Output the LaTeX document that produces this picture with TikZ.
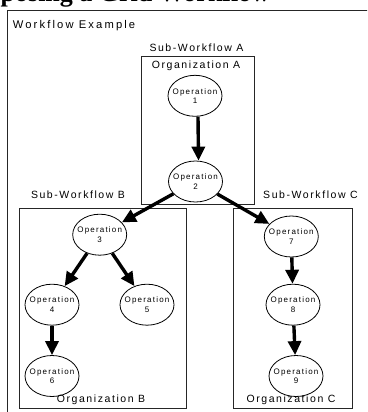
\documentclass[tikz,border=0pt]{standalone}
\usepackage{fontspec}
\setmainfont{Liberation Sans}
\newfontfamily\lblfont[LetterSpace=15]{Liberation Sans}
\newfontfamily\wffont[LetterSpace=19]{Liberation Sans}
\newfontfamily\opfont[LetterSpace=15]{Liberation Sans}
\newfontfamily\titlefont{Liberation Serif}
\usetikzlibrary{shapes.geometric,arrows.meta}
\begin{document}
\begin{tikzpicture}[x=1pt,y=-1pt,
  op/.style={draw=black, line width=0.8pt, ellipse, minimum width=54pt, minimum height=41pt, inner sep=0pt},
  optext/.style={font=\opfont\fontsize{8}{9.3}\selectfont, align=center, inner sep=0pt},
  lbl/.style={font=\lblfont\fontsize{10.5}{12}\selectfont, inner sep=0pt},
  box/.style={draw=black!85, line width=0.8pt},
  flow/.style={line width=3.4pt, -{Triangle[length=14pt,width=13pt]}},
]
\useasboundingbox (0,0) rectangle (367,412);
\clip (0,0) rectangle (367,412);
\fill[white] (0,0) rectangle (367,412);

\node[anchor=base west, font=\titlefont\bfseries\fontsize{26}{26}\selectfont, inner sep=0pt] (title) at (0.5,1.8) {posing a Grid Workflow};

\draw[box] (7.3,420) -- (7.3,10) -- (372,10);

\node[lbl, font=\wffont\fontsize{11.2}{12}\selectfont, anchor=west] (wf) at (12.7,26) {Workflow Example};
\node[lbl] (swa) at (196.5,47.7) {Sub-Workflow A};
\node[lbl] (swb) at (78,195) {Sub-Workflow B};
\node[lbl] (swc) at (310.5,195) {Sub-Workflow C};

\draw[box] (141.7,56.7) rectangle (254.3,204);
\draw[box] (19.3,208.3) rectangle (186,408.3);
\draw[box] (233.3,208.3) rectangle (352.7,408.3);

\node[lbl] (orga) at (196,65.7) {Organization A};
\node[lbl] (orgb) at (101,399.3) {Organization B};
\node[lbl] (orgc) at (291,399.3) {Organization C};

\node[op] (o1) at (195,95.8) {};
\node[op] (o2) at (195.5,181.5) {};
\node[op] (o3) at (99.7,234.7) {};
\node[op] (o4) at (52,304.7) {};
\node[op] (o5) at (147,304.7) {};
\node[op] (o6) at (52,376) {};
\node[op] (o7) at (291.3,236.5) {};
\node[op] (o8) at (293,304.7) {};
\node[op] (o9) at (296,376) {};

\node[optext] (t1) at (o1) {Operation\\1};
\node[optext] (t2) at (o2) {Operation\\2};
\node[optext] (t3) at (o3) {Operation\\3};
\node[optext] (t4) at (o4) {Operation\\4};
\node[optext] (t5) at (o5) {Operation\\5};
\node[optext] (t6) at (o6) {Operation\\6};
\node[optext] (t7) at (o7) {Operation\\7};
\node[optext] (t8) at (o8) {Operation\\8};
\node[optext] (t9) at (o9) {Operation\\9};

\draw[flow] ([xshift=3pt]o1.south) -- ([xshift=3pt]o2.north);
\draw[flow] (o2) -- (o3);
\draw[flow] (o2) -- (o7);
\draw[flow] (o3) -- (o4);
\draw[flow] (o3) -- (o5);
\draw[flow] (o4) -- (o6);
\draw[flow] (o7) -- (o8);
\draw[flow] (o8) -- (o9);
\end{tikzpicture}
\end{document}
